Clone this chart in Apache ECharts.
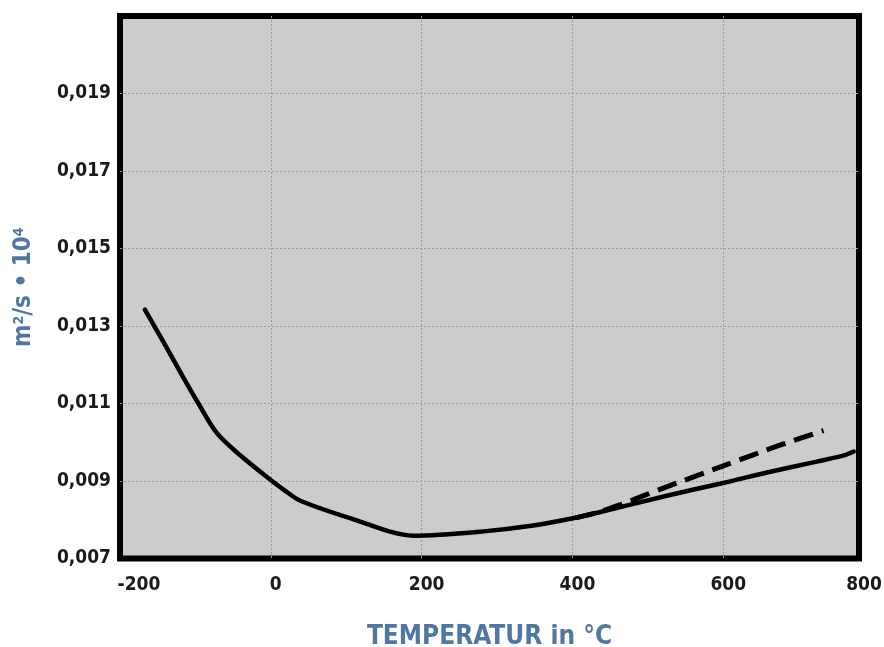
<!DOCTYPE html>
<html>
<head>
<meta charset="utf-8">
<script src="https://cdn.jsdelivr.net/npm/echarts@6/dist/echarts.min.js"></script>
<style>
  html, body { margin: 0; padding: 0; background: #ffffff; }
  #chart { width: 884px; height: 647px; }
</style>
</head>
<body>
<div id="chart"></div>
<script>
// Temperature (°C) and kinematic viscosity (m²/s · 10⁴)
const tempSolid = [-167, -143, -120, -96, -72, -41, -1, 21, 39, 107, 189, 282, 348, 404, 437, 525, 600, 658, 724, 760, 773];
const viscSolid = [0.01342, 0.01261, 0.01181, 0.0110, 0.01025, 0.00967, 0.00904, 0.00872, 0.00849, 0.00803, 0.00759, 0.00770, 0.00785, 0.00805, 0.00820, 0.00862, 0.00895, 0.00922, 0.00950, 0.00966, 0.00976];

const tempDashed = [404, 437, 465, 497, 525, 600, 676, 733];
const viscDashed = [0.00805, 0.00821, 0.00840, 0.00864, 0.00885, 0.00939, 0.00993, 0.01030];

const xTickLabels = ['-200', '0', '200', '400', '600', '800'];
const yTickLabels = ['0,007', '0,009', '0,011', '0,013', '0,015', '0,017', '0,019'];

const pairs = (xs, ys) => xs.map((x, i) => [x, ys[i]]);

const FONT = '"Liberation Sans Narrow", "DejaVu Sans Condensed", "Liberation Sans", sans-serif';
const NAME_BLUE = '#4f77a3';
const LABEL_SIZE = 19;

const chart = echarts.init(document.getElementById('chart'), null, { renderer: 'canvas' });

chart.setOption({
  backgroundColor: '#ffffff',
  animation: false,
  grid: {
    left: 120, right: 25, top: 16, bottom: 88.5,
    outerBoundsMode: 'none',
    containLabel: false,
    show: true,
    backgroundColor: '#cccccc',
    borderColor: '#000000',
    borderWidth: 6
  },
  xAxis: {
    type: 'value',
    min: -200, max: 780, interval: 200,
    axisLine: { show: false },
    axisTick: { show: false },
    splitLine: {
      show: true, showMinLine: false, showMaxLine: false,
      lineStyle: { color: '#9a9a9a', type: [2, 2], width: 1 }
    },
    axisLabel: {
      showMinLabel: true, showMaxLabel: true,
      margin: 17,
      formatter: (v, i) => {
        const t = xTickLabels[i] !== undefined ? xTickLabels[i] : '';
        if (i === 0) return '{first|' + t + '}';
        return '{n|' + t + '}';
      },
      rich: {
        first: { fontFamily: FONT, fontWeight: 'bold', fontSize: LABEL_SIZE, color: '#1a1a1a', padding: [0, 0, 0, 38] },
        n: { fontFamily: FONT, fontWeight: 'bold', fontSize: LABEL_SIZE, color: '#1a1a1a', padding: [0, 0, 0, 10] }
      }
    },
    name: 'TEMPERATUR in °C',
    nameLocation: 'middle',
    nameGap: 66,
    nameTextStyle: { fontFamily: FONT, fontWeight: 'bold', fontSize: 26, color: NAME_BLUE }
  },
  yAxis: {
    type: 'value',
    min: 0.007, max: 0.021, interval: 0.002,
    axisLine: { show: false },
    axisTick: { show: false },
    splitLine: {
      show: true, showMinLine: false, showMaxLine: false,
      lineStyle: { color: '#9a9a9a', type: [2, 2], width: 1 }
    },
    axisLabel: {
      showMinLabel: true, showMaxLabel: false,
      margin: 9,
      fontFamily: FONT, fontWeight: 'bold', fontSize: LABEL_SIZE, color: '#1a1a1a',
      formatter: (v, i) => (yTickLabels[i] !== undefined ? yTickLabels[i] : '')
    },
    name: 'm{sup|2}/s • 10{sup|4}',
    nameLocation: 'middle',
    nameRotate: 90,
    nameGap: 84,
    nameTextStyle: {
      fontFamily: FONT, fontWeight: 'bold', fontSize: 24, color: NAME_BLUE,
      rich: {
        sup: { fontFamily: FONT, fontWeight: 'bold', fontSize: 14, color: NAME_BLUE, padding: [0, 0, 10, 0] }
      }
    }
  },
  series: [
    {
      type: 'line',
      data: pairs(tempDashed, viscDashed),
      showSymbol: false,
      smooth: 0.3,
      lineStyle: { color: '#000000', width: 5, type: [20, 9], cap: 'butt' },
      z: 2
    },
    {
      type: 'line',
      data: pairs(tempSolid, viscSolid),
      showSymbol: false,
      smooth: 0.3,
      lineStyle: { color: '#000000', width: 4.5, cap: 'round', join: 'round' },
      z: 3
    }
  ]
});
</script>
</body>
</html>
